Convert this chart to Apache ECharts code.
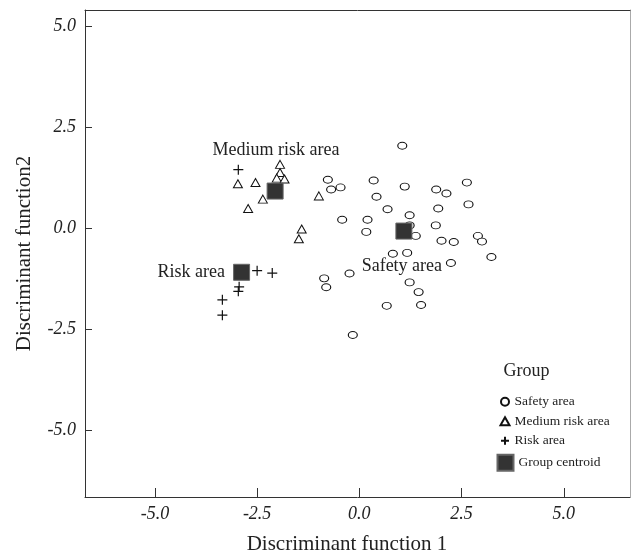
<!DOCTYPE html>
<html>
<head>
<meta charset="utf-8">
<script src="https://cdn.jsdelivr.net/npm/echarts@6/dist/echarts.min.js"></script>
<style>
  html, body { margin: 0; padding: 0; background: #fff; }
  #main { width: 631px; height: 560px; }
</style>
</head>
<body>
<div id="main"></div>
<script>
// discriminant scores
var safetyArea = [[1.05, 2.05], [-0.77, 1.21], [-0.69, 0.97], [-0.46, 1.02], [0.35, 1.19], [1.11, 1.04],
  [1.88, 0.97], [2.13, 0.87], [2.63, 1.14], [0.42, 0.79], [0.69, 0.48], [2.67, 0.60], [1.93, 0.50],
  [-0.42, 0.22], [0.20, 0.22], [0.17, -0.08], [1.23, 0.33], [1.23, 0.08], [1.38, -0.18], [1.87, 0.08],
  [2.01, -0.30], [2.31, -0.33], [2.90, -0.18], [3.00, -0.32], [3.23, -0.70], [0.82, -0.62], [1.17, -0.60],
  [2.24, -0.85], [-0.24, -1.11], [-0.86, -1.23], [-0.81, -1.45], [1.23, -1.33], [1.45, -1.57],
  [0.67, -1.91], [1.51, -1.89], [-0.16, -2.63]];
var mediumRiskArea = [[-1.94, 1.59], [-1.94, 1.39], [-2.02, 1.25], [-1.83, 1.23], [-2.97, 1.11],
  [-2.54, 1.14], [-2.36, 0.73], [-2.72, 0.50], [-0.99, 0.81], [-1.41, -0.01], [-1.48, -0.25]];
var riskArea = [[-2.96, 1.46], [-2.50, -1.04], [-2.13, -1.10], [-2.94, -1.44], [-2.96, -1.55],
  [-3.35, -1.76], [-3.35, -2.14]];
var groupCentroid = [[1.09, -0.06], [-2.06, 0.93], [-2.88, -1.08]];
// group names written next to the centroids
var annotations = [['Medium risk area', -2.04, 1.94], ['Risk area', -4.11, -1.08], ['Safety area', 1.04, -0.92]];
var tickValues = [-5, -2.5, 0, 2.5, 5];

var serif = 'Liberation Serif';
var chart = echarts.init(document.getElementById('main'));

function axisBase(name, min, max) {
  return {
    type: 'value', min: min, max: max, name: name, nameLocation: 'middle',
    nameTextStyle: { fontFamily: serif, fontSize: 21, color: '#222' },
    axisLine: { show: true, onZero: false, lineStyle: { color: '#333', width: 1 } },
    axisTick: { show: true, inside: true, customValues: tickValues, lineStyle: { color: '#333' } },
    axisLabel: {
      customValues: tickValues, fontFamily: serif, fontStyle: 'italic', fontSize: 18, color: '#222',
      formatter: function (v) { return v.toFixed(1); }
    },
    splitLine: { show: false }
  };
}

var xMain = axisBase('Discriminant function 1', -6.71, 6.62);
xMain.nameGap = 37;
xMain.nameTextStyle.padding = [0, 21, 0, 0];
xMain.axisTick.length = 9;
xMain.axisLabel.margin = 8;
var yMain = axisBase('Discriminant function2', -6.64, 5.41);
yMain.nameGap = 50;
yMain.axisTick.length = 7;
yMain.axisLabel.margin = 9;

var option = {
  backgroundColor: '#fff',
  animation: false,
  grid: { left: 85, top: 10, right: 1, bottom: 58 },
  xAxis: [xMain, {
    type: 'value', min: -6.71, max: 6.62, position: 'top',
    axisLine: { show: true, onZero: false, lineStyle: { color: '#333' } },
    axisTick: { show: false }, axisLabel: { show: false }, splitLine: { show: false }
  }],
  yAxis: [yMain, {
    type: 'value', min: -6.64, max: 5.41, position: 'right',
    axisLine: { show: true, onZero: false, lineStyle: { color: '#aaa' } },
    axisTick: { show: false }, axisLabel: { show: false }, splitLine: { show: false }
  }],
  legend: [{
    data: ['Safety area', 'Medium risk area', 'Risk area'],
    orient: 'vertical', left: 494.5, top: 389.7, itemWidth: 9, itemHeight: 8, itemGap: 5.5,
    textStyle: { fontFamily: serif, fontSize: 13.5, color: '#222' }
  }, {
    data: ['Group centroid'],
    orient: 'vertical', left: 491.5, top: 448.7, itemWidth: 16, itemHeight: 16,
    textStyle: { fontFamily: serif, fontSize: 13.5, color: '#222' }
  }],
  graphic: [{
    type: 'text', left: 503.5, top: 362,
    style: { text: 'Group', fontFamily: serif, fontSize: 18, fill: '#222' }
  }],
  series: [{
    name: 'Safety area', type: 'scatter', data: safetyArea,
    symbol: 'circle', symbolSize: [9, 7],
    itemStyle: { color: '#fff', borderColor: '#111', borderWidth: 1, opacity: 1 }
  }, {
    name: 'Medium risk area', type: 'scatter', data: mediumRiskArea,
    symbol: 'triangle', symbolSize: [9, 8],
    itemStyle: { color: '#fff', borderColor: '#111', borderWidth: 1, opacity: 1 }
  }, {
    name: 'Risk area', type: 'scatter', data: riskArea,
    symbol: 'path://M0,5L10,5M5,0L5,10', symbolSize: 10,
    itemStyle: { color: 'rgba(0,0,0,0)', borderColor: '#111', borderWidth: 1.2, opacity: 1 }
  }, {
    name: 'Group centroid', type: 'scatter', data: groupCentroid, z: 5,
    symbol: 'rect', symbolSize: 16,
    itemStyle: { color: '#333', borderColor: '#666', borderWidth: 1, opacity: 1 }
  }, {
    name: 'labels', type: 'scatter', silent: true, z: 6, symbolSize: 0,
    itemStyle: { opacity: 1 },
    data: annotations.map(function (a) { return { name: a[0], value: [a[1], a[2]] }; }),
    label: {
      show: true, position: 'inside', formatter: '{b}',
      fontFamily: serif, fontSize: 18, color: '#222', textBorderWidth: 0
    }
  }]
};
chart.setOption(option);
</script>
</body>
</html>
